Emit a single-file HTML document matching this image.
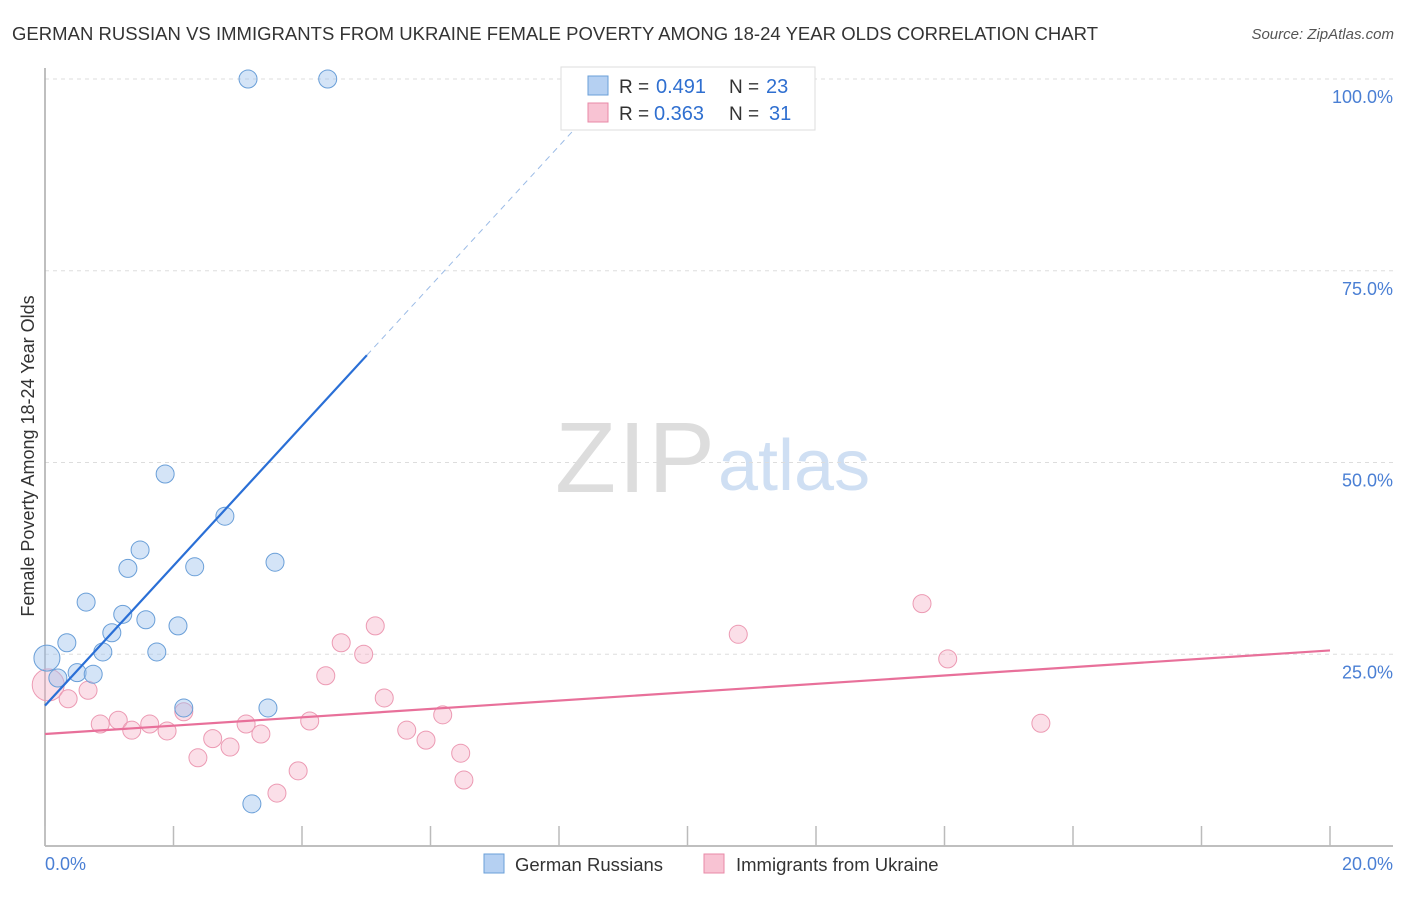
<!DOCTYPE html>
<html><head><meta charset="utf-8"><style>
body{margin:0;background:#fff;font-family:"Liberation Sans",sans-serif}
svg text{font-family:"Liberation Sans",sans-serif}
</style></head><body>
<svg width="1406" height="892" viewBox="0 0 1406 892">
<text x="12" y="40" font-size="18.5" fill="#333" textLength="1086">GERMAN RUSSIAN VS IMMIGRANTS FROM UKRAINE FEMALE POVERTY AMONG 18-24 YEAR OLDS CORRELATION CHART</text>
<text x="1394" y="39" font-size="15" fill="#555" font-style="italic" text-anchor="end">Source: ZipAtlas.com</text>
<text x="715" y="492" font-size="100" fill="#ddd" text-anchor="end" textLength="160" font-family="Liberation Serif">ZIP</text>
<text x="718" y="490" font-size="72" fill="#cfdff3">atlas</text>
<g id="grid"></g>
<g id="axes"></g>
<g id="marks"></g>
<text transform="translate(34,456) rotate(-90)" font-size="18" fill="#333" text-anchor="middle">Female Poverty Among 18-24 Year Olds</text>
<text x="45" y="870" font-size="18" fill="#4a7fd4">0.0%</text>
<text x="1393" y="870" font-size="18" fill="#4a7fd4" text-anchor="end">20.0%</text>
<g>
<rect x="561" y="67" width="254" height="63" fill="#fff" stroke="#ddd"/>
<rect x="588" y="76" width="20" height="19" fill="#b5d0f2" stroke="#6a9fd8"/>
<rect x="588" y="103" width="20" height="19" fill="#f8c3d3" stroke="#e88aa7"/>
<text x="619" y="93" font-size="19" fill="#333">R =</text>
<text x="656" y="93" font-size="20" fill="#2f6fd0">0.491</text>
<text x="729" y="93" font-size="19" fill="#333">N =</text>
<text x="766" y="93" font-size="20" fill="#2f6fd0">23</text>
<text x="619" y="120" font-size="19" fill="#333">R =</text>
<text x="654" y="120" font-size="20" fill="#2f6fd0">0.363</text>
<text x="729" y="120" font-size="19" fill="#333">N =</text>
<text x="769" y="120" font-size="20" fill="#2f6fd0">31</text>
</g>
<g>
<rect x="484" y="854" width="20" height="19" fill="#b5d0f2" stroke="#6a9fd8"/>
<text x="515" y="871" font-size="18.5" fill="#333">German Russians</text>
<rect x="704" y="854" width="20" height="19" fill="#f8c3d3" stroke="#e88aa7"/>
<text x="736" y="871" font-size="18.5" fill="#333">Immigrants from Ukraine</text>
</g>
</svg>
<script>
const yTicks=[25,50,75,100];
const yTickLabels=["25.0%","50.0%","75.0%","100.0%"];
const xTicks=[0,2,4,6,8,10,12,14,16,18,20];
const blueX=[0.03,0.20,0.34,0.50,0.64,0.75,0.90,1.04,1.21,1.29,1.48,1.57,1.74,1.87,2.07,2.16,2.33,2.80,3.16,3.22,3.47,3.58,4.40];
const blueY=[24.5,21.9,26.5,22.6,31.8,22.4,25.3,27.8,30.2,36.2,38.6,29.5,25.3,48.5,28.7,18.0,36.4,43.0,100,5.5,18.0,37.0,100];
const pinkX=[0.05,0.36,0.67,0.86,1.14,1.35,1.63,1.90,2.16,2.38,2.61,2.88,3.13,3.36,3.61,3.94,4.12,4.37,4.61,4.96,5.14,5.28,5.63,5.93,6.19,6.47,6.52,10.79,13.65,14.05,15.50];
const pinkY=[21.0,19.2,20.3,15.9,16.4,15.1,15.9,15.0,17.5,11.5,14.0,12.9,15.9,14.6,6.9,9.8,16.3,22.2,26.5,25.0,28.7,19.3,15.1,13.8,17.1,12.1,8.6,27.6,31.6,24.4,16.0];
const blueTrend=[18.3,9.12];
const pinkTrend=[14.6,0.545];
const NS="http://www.w3.org/2000/svg";
const X=v=>45+v*64.25, Y=v=>846-v*7.67;
function mk(p,t,a){const e=document.createElementNS(NS,t);for(const k in a)e.setAttribute(k,a[k]);p.appendChild(e);return e;}
const grid=document.getElementById('grid'),axes=document.getElementById('axes'),marks=document.getElementById('marks');
yTicks.forEach((t,i)=>{
 const l=mk(grid,'line',{x1:45,x2:1393,y1:Y(t),y2:Y(t),stroke:'#ddd','stroke-dasharray':'4,4'});
 
 
 const tx=mk(grid,'text',{x:1393,y:Y(t)+24,'font-size':18,fill:'#4a7fd4','text-anchor':'end'});
 tx.textContent=yTickLabels[i];
 
 
});
mk(axes,'line',{x1:45,x2:45,y1:68,y2:846,stroke:'#aaa','stroke-width':1.5});
mk(axes,'line',{x1:45,x2:1393,y1:846,y2:846,stroke:'#aaa','stroke-width':1.5});
xTicks.forEach(t=>{
 const l=mk(axes,'line',{x1:X(t),x2:X(t),y1:826,y2:846,stroke:'#bbb','stroke-width':1.5});
 
 
});
pinkX.forEach((x,i)=>{
 const c=mk(marks,'circle',{cx:X(x),cy:Y(pinkY[i]),r:i==0?16:9,fill:'rgba(245,175,198,0.4)',stroke:'#ec9ab3','stroke-width':1});
 
 
});
blueX.forEach((x,i)=>{
 const c=mk(marks,'circle',{cx:X(x),cy:Y(blueY[i]),r:i==0?13:9,fill:'rgba(160,195,238,0.45)',stroke:'#6a9fd8','stroke-width':1});
 
 
});
const bl=mk(marks,'line',{x1:X(0),y1:Y(blueTrend[0]),x2:X(5.01),y2:Y(blueTrend[0]+blueTrend[1]*5.01),stroke:'#2a6fd6','stroke-width':2.2});


const bd=mk(marks,'line',{x1:X(5.01),y1:Y(blueTrend[0]+blueTrend[1]*5.01),x2:X(8.6),y2:Y(blueTrend[0]+blueTrend[1]*8.6),stroke:'#9bbbe6','stroke-width':1,'stroke-dasharray':'6,5'});


const pl=mk(marks,'line',{x1:X(0),y1:Y(pinkTrend[0]),x2:X(20),y2:Y(pinkTrend[0]+pinkTrend[1]*20),stroke:'#e8709a','stroke-width':2.2});


</script>
</body></html>
